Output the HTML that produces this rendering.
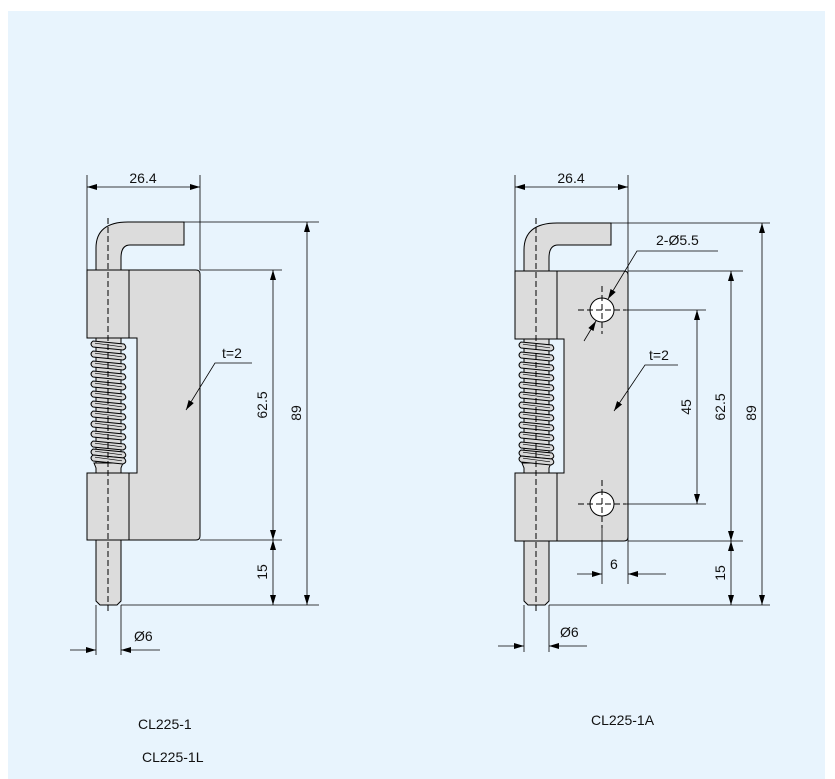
<!DOCTYPE html>
<html><head><style>
html,body{margin:0;padding:0;background:#fff;}
svg{display:block;}
text{font-family:"Liberation Sans",Arial,sans-serif;fill:#111;}
</style></head><body>
<svg width="835" height="779" viewBox="0 0 835 779" xmlns="http://www.w3.org/2000/svg">
<defs>
<marker id="a" viewBox="0 0 10 6" refX="10" refY="3" markerWidth="10" markerHeight="6" markerUnits="userSpaceOnUse" orient="auto-start-reverse"><path d="M0,0 L10,3 L0,6 Z" fill="#000"/></marker>
<g id="coil"><path d="M0,0 Q-4,3 0,6 L30,9 Q35,7 31,3 Z" fill="#d8d8d8" stroke="#000" stroke-width="1"/><path d="M2,2.2 L29,5.8" stroke="#000" stroke-width="0.6"/></g>
</defs>
<rect x="8" y="11" width="817" height="768" fill="#e8f4fd"/>

<!-- ========== LEFT ========== -->
<g stroke="#000" stroke-width="1" fill="#dcdcdc">
<path d="M96,270 L96,248 Q96,222 128,222 L184,222 L184,245 L130,245 Q121,245 121,258 L121,270 Z"/>
<path d="M129,270 L196,270 Q200,270 200,274 L200,536 Q200,540 196,540 L129,540 L129,473 L137,473 L137,338 L129,338 Z"/>
<rect x="87" y="270" width="42" height="68"/>
<rect x="87" y="473" width="42" height="67"/>
<rect x="96" y="338" width="25" height="135"/>
<path d="M96,540 L96,601 L100,605 L117,605 L121,601 L121,540 Z"/>
<path d="M94,463 L123,463 L121,468 L121,473 L96,473 L96,468 Z"/>
</g>
<g>
<use href="#coil" x="93" y="341"/><use href="#coil" x="93" y="351"/><use href="#coil" x="93" y="361"/><use href="#coil" x="93" y="371"/><use href="#coil" x="93" y="381"/><use href="#coil" x="93" y="391"/><use href="#coil" x="93" y="401"/><use href="#coil" x="93" y="411"/><use href="#coil" x="93" y="421"/><use href="#coil" x="93" y="431"/><use href="#coil" x="93" y="441"/><use href="#coil" x="93" y="449"/><use href="#coil" x="93" y="455"/>
</g>
<line x1="108" y1="218" x2="108" y2="612" stroke="#000" stroke-width="1" stroke-dasharray="6,3"/>
<g stroke="#000" stroke-width="0.8" fill="none">
<line x1="87" y1="175" x2="87" y2="270"/><line x1="200" y1="175" x2="200" y2="270"/>
<line x1="87" y1="187" x2="200" y2="187" marker-start="url(#a)" marker-end="url(#a)"/>
<line x1="184" y1="222" x2="319" y2="222"/>
<line x1="200" y1="270" x2="282" y2="270"/><line x1="200" y1="540" x2="282" y2="540"/>
<line x1="121" y1="605" x2="319" y2="605"/>
<line x1="273" y1="270" x2="273" y2="540" marker-start="url(#a)" marker-end="url(#a)"/>
<line x1="273" y1="540" x2="273" y2="605" marker-start="url(#a)" marker-end="url(#a)"/>
<line x1="307" y1="222" x2="307" y2="605" marker-start="url(#a)" marker-end="url(#a)"/>
<line x1="96" y1="605" x2="96" y2="655"/><line x1="121" y1="605" x2="121" y2="655"/>
<line x1="70" y1="650" x2="96" y2="650" marker-end="url(#a)"/>
<line x1="160" y1="650" x2="121" y2="650" marker-end="url(#a)"/>
<polyline points="252,363 215,363 186,410" marker-end="url(#a)"/>
</g>
<text x="143" y="183" font-size="14" text-anchor="middle">26.4</text>
<text x="222" y="358" font-size="14">t=2</text>
<text x="134" y="641" font-size="14">Ø6</text>
<text font-size="14" transform="translate(267,405) rotate(-90)" text-anchor="middle">62.5</text>
<text font-size="14" transform="translate(267,572) rotate(-90)" text-anchor="middle">15</text>
<text font-size="14" transform="translate(301,413) rotate(-90)" text-anchor="middle">89</text>

<!-- ========== RIGHT ========== -->
<g stroke="#000" stroke-width="1" fill="#dcdcdc">
<path d="M524,271 L524,250 Q524,223 557,223 L611,223 L611,245 L558,245 Q549,245 549,258 L549,271 Z"/>
<path d="M557,271 L624,271 Q628,271 628,275 L628,537 Q628,541 624,541 L557,541 L557,473 L564,473 L564,339 L557,339 Z"/>
<rect x="515" y="271" width="42" height="68"/>
<rect x="515" y="473" width="42" height="68"/>
<rect x="524" y="339" width="25" height="134"/>
<path d="M524,541 L524,601 L528,605 L545,605 L549,601 L549,541 Z"/>
<path d="M522,463 L551,463 L549,468 L549,473 L524,473 L524,468 Z"/>
<circle cx="602" cy="310" r="12" fill="#fff"/>
<circle cx="602" cy="504" r="12" fill="#fff"/>
</g>
<g>
<use href="#coil" x="521" y="342"/><use href="#coil" x="521" y="352"/><use href="#coil" x="521" y="362"/><use href="#coil" x="521" y="372"/><use href="#coil" x="521" y="382"/><use href="#coil" x="521" y="392"/><use href="#coil" x="521" y="402"/><use href="#coil" x="521" y="412"/><use href="#coil" x="521" y="422"/><use href="#coil" x="521" y="432"/><use href="#coil" x="521" y="442"/><use href="#coil" x="521" y="450"/><use href="#coil" x="521" y="456"/>
</g>
<g stroke="#000" stroke-width="1" stroke-dasharray="6,3" fill="none">
<line x1="536" y1="218" x2="536" y2="612"/>
<line x1="602" y1="286" x2="602" y2="334"/><line x1="578" y1="310" x2="626" y2="310"/>
<line x1="602" y1="480" x2="602" y2="528"/><line x1="578" y1="504" x2="626" y2="504"/>
</g>
<g stroke="#000" stroke-width="0.8" fill="none">
<line x1="515" y1="175" x2="515" y2="271"/><line x1="628" y1="175" x2="628" y2="584"/>
<line x1="515" y1="187" x2="628" y2="187" marker-start="url(#a)" marker-end="url(#a)"/>
<line x1="611" y1="223" x2="770" y2="223"/>
<line x1="628" y1="271" x2="743" y2="271"/><line x1="628" y1="541" x2="743" y2="541"/>
<line x1="626" y1="310" x2="706" y2="310"/><line x1="626" y1="504" x2="706" y2="504"/>
<line x1="549" y1="605" x2="770" y2="605"/>
<line x1="697" y1="310" x2="697" y2="504" marker-start="url(#a)" marker-end="url(#a)"/>
<line x1="731" y1="271" x2="731" y2="541" marker-start="url(#a)" marker-end="url(#a)"/>
<line x1="731" y1="541" x2="731" y2="605" marker-start="url(#a)" marker-end="url(#a)"/>
<line x1="762" y1="223" x2="762" y2="605" marker-start="url(#a)" marker-end="url(#a)"/>
<line x1="602" y1="528" x2="602" y2="584"/>
<line x1="577" y1="574" x2="602" y2="574" marker-end="url(#a)"/>
<line x1="666" y1="574" x2="628" y2="574" marker-end="url(#a)"/>
<line x1="524" y1="605" x2="524" y2="652"/><line x1="549" y1="605" x2="549" y2="652"/>
<line x1="498" y1="646" x2="524" y2="646" marker-end="url(#a)"/>
<line x1="587" y1="646" x2="549" y2="646" marker-end="url(#a)"/>
<polyline points="718,251 637,251 608,299" marker-end="url(#a)"/>
<line x1="584" y1="341" x2="596" y2="321" marker-end="url(#a)"/>
<polyline points="678,365 645,365 614,411" marker-end="url(#a)"/>
</g>
<text x="571" y="183" font-size="14" text-anchor="middle">26.4</text>
<text x="656" y="245" font-size="14">2-Ø5.5</text>
<text x="649" y="360" font-size="14">t=2</text>
<text x="610" y="569" font-size="14">6</text>
<text x="560" y="637" font-size="14">Ø6</text>
<text font-size="14" transform="translate(691,407) rotate(-90)" text-anchor="middle">45</text>
<text font-size="14" transform="translate(725,407) rotate(-90)" text-anchor="middle">62.5</text>
<text font-size="14" transform="translate(725,573) rotate(-90)" text-anchor="middle">15</text>
<text font-size="14" transform="translate(756,413) rotate(-90)" text-anchor="middle">89</text>

<text x="138" y="729" font-size="14">CL225-1</text>
<text x="142" y="762" font-size="14">CL225-1L</text>
<text x="591" y="725" font-size="14">CL225-1A</text>
</svg>
</body></html>
